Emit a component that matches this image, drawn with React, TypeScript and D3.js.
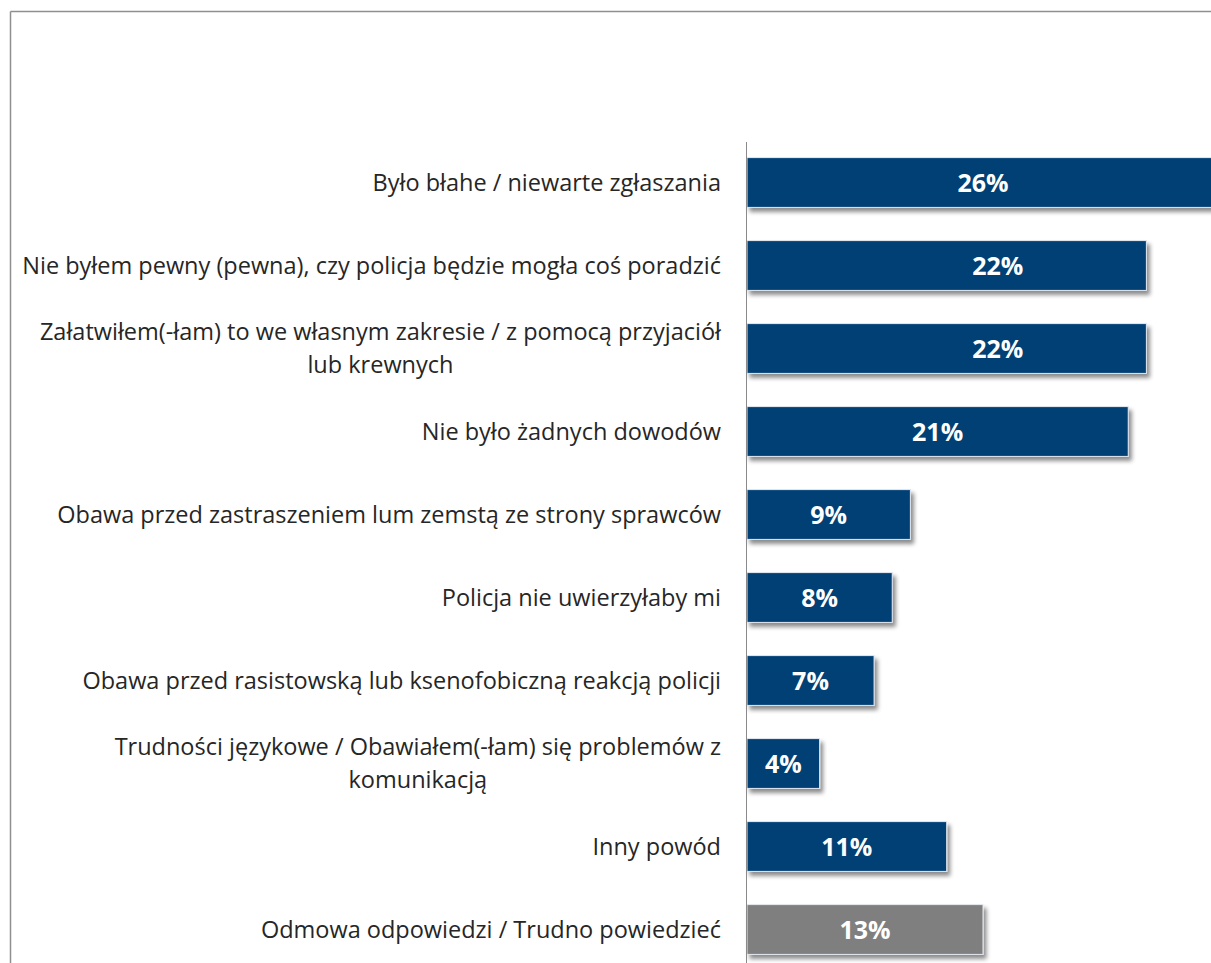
import React from "react";
import * as d3 from "d3";

const categories: string[] = [
  "Było błahe / niewarte zgłaszania",
  "Nie byłem pewny (pewna), czy policja będzie mogła coś poradzić",
  "Załatwiłem(-łam) to we własnym zakresie / z pomocą przyjaciół\nlub krewnych",
  "Nie było żadnych dowodów",
  "Obawa przed zastraszeniem lum zemstą ze strony sprawców",
  "Policja nie uwierzyłaby mi",
  "Obawa przed rasistowską lub ksenofobiczną reakcją policji",
  "Trudności językowe / Obawiałem(-łam) się problemów z\nkomunikacją",
  "Inny powód",
  "Odmowa odpowiedzi / Trudno powiedzieć",
];
const values: number[] = [26, 22, 22, 21, 9, 8, 7, 4, 11, 13];
const isNoAnswer: boolean[] = [false, false, false, false, false, false, false, false, false, true];

const W = 1211;
const H = 963;
const NAVY = "#023f75";
const GREY = "#7f7f7f";
const LABEL_NUDGE: Record<number, number> = { 1: 51, 2: 51 };
const FONT = "'Open Sans', Lato, sans-serif";

export default function App() {
  const x = d3.scaleLinear().domain([0, 26]).range([747, 1219]);
  const y = d3
    .scaleBand<string>()
    .domain(categories)
    .range([141, 971])
    .paddingInner(0.4)
    .paddingOuter(0.2);
  const labelRight = 721;
  const lineGap = 33;

  return (
    <svg
      width={W}
      height={H}
      style={{ position: "absolute", left: 0, top: 0, background: "#fff" }}
      fontFamily={FONT}
    >
      <defs>
        <filter id="shadow" x="-5%" y="-20%" width="115%" height="160%">
          <feDropShadow dx={3} dy={4} stdDeviation={2} floodColor="#000" floodOpacity={0.45} />
        </filter>
      </defs>
      <line x1={10.5} y1={11.5} x2={W} y2={11.5} stroke="#8f8f8f" strokeWidth={1.5} />
      <line x1={10.5} y1={11.5} x2={10.5} y2={H} stroke="#8f8f8f" strokeWidth={1.5} />

      {categories.map((c, i) => {
        const y0 = y(c)!;
        const bw = y.bandwidth();
        const x0 = x(0);
        const x1 = x(values[i]);
        const lines = c.split("\n");
        const cy = y0 + bw / 2;
        return (
          <g key={c}>
            <rect
              x={x0}
              y={y0}
              width={x1 - x0}
              height={bw}
              fill={isNoAnswer[i] ? GREY : NAVY}
              stroke="#e4e9ef"
              strokeWidth={1}
              filter="url(#shadow)"
            />
            <text
              x={(x0 + x1) / 2 + (LABEL_NUDGE[i] || 0)}
              y={cy}
              dy="0.36em"
              textAnchor="middle"
              fill="#fff"
              fontWeight={700}
              fontSize={25}
            >
              {values[i] + "%"}
            </text>
            <CategoryLabel lines={lines} right={labelRight} cy={cy} gap={lineGap} />
          </g>
        );
      })}

      <line x1={746.5} y1={142} x2={746.5} y2={H} stroke="#8a8a8a" strokeWidth={1} />
    </svg>
  );
}

function CategoryLabel({ lines, right, cy, gap }: { lines: string[]; right: number; cy: number; gap: number }) {
  const ref = React.useRef<SVGGElement>(null);
  React.useLayoutEffect(() => {
    const g = ref.current;
    if (!g || lines.length < 2) return;
    const texts = Array.from(g.querySelectorAll("text")) as SVGTextElement[];
    const widths = texts.map((t) => t.getComputedTextLength());
    const maxW = Math.max(...widths);
    const centre = right - maxW / 2;
    texts.forEach((t) => {
      t.setAttribute("x", String(centre));
      t.setAttribute("text-anchor", "middle");
    });
  }, [lines, right]);
  const start = cy - ((lines.length - 1) * gap) / 2;
  return (
    <g ref={ref}>
      {lines.map((l, k) => (
        <text key={k} x={right} y={start + k * gap} dy="0.35em" textAnchor="end" fill="#262626" fontSize={23.5}>
          {l}
        </text>
      ))}
    </g>
  );
}
